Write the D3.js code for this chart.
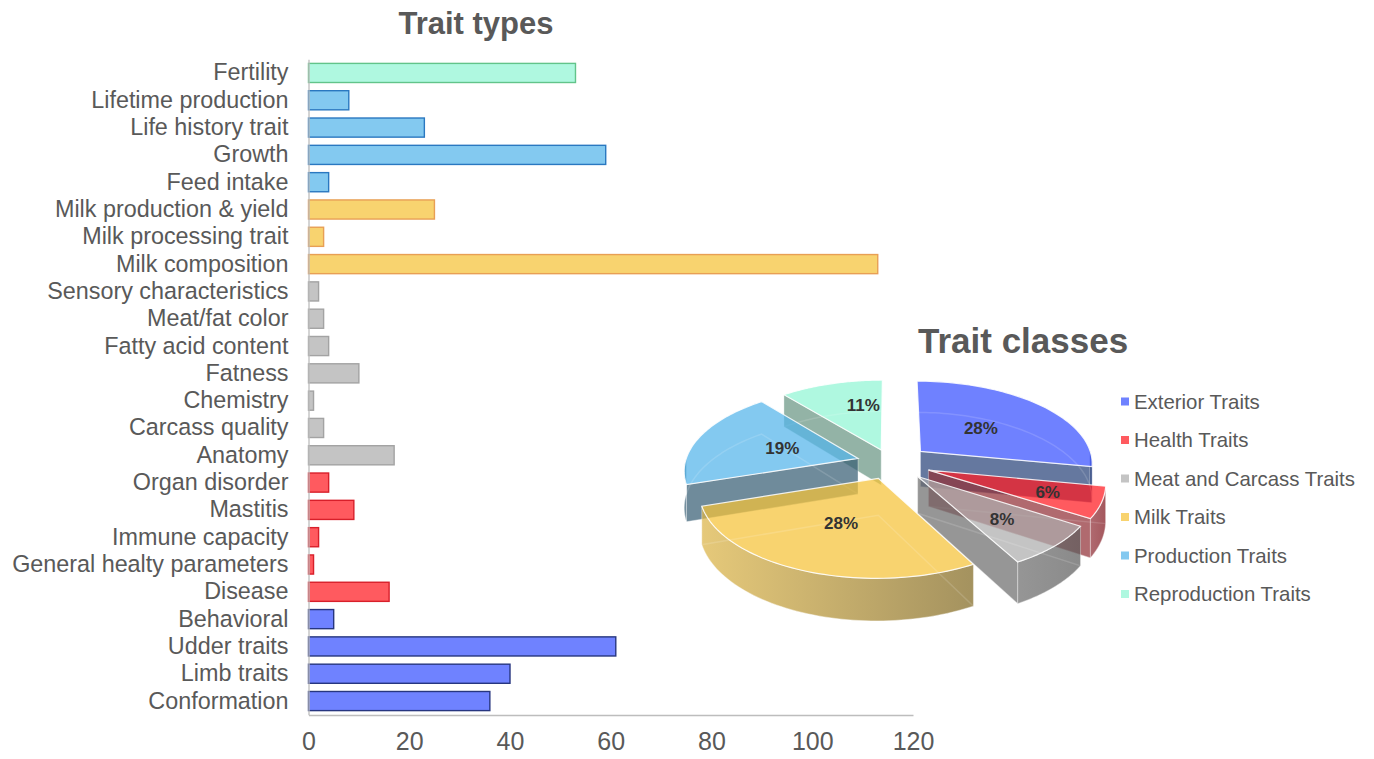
<!DOCTYPE html>
<html>
<head>
<meta charset="utf-8">
<style>
  html, body { margin: 0; padding: 0; background: #fff; }
  svg { display: block; font-family: "Liberation Sans", Arial, sans-serif; }
</style>
<script src="https://cdn.jsdelivr.net/npm/d3@7/dist/d3.min.js"></script>
</head>
<body>
<svg id="chart" width="1374" height="759"></svg>
<script>
// Trait types: bar values listed top to bottom
const traitNames = ["Fertility","Lifetime production","Life history trait","Growth","Feed intake",
  "Milk production & yield","Milk processing trait","Milk composition","Sensory characteristics",
  "Meat/fat color","Fatty acid content","Fatness","Chemistry","Carcass quality","Anatomy",
  "Organ disorder","Mastitis","Immune capacity","General healty parameters","Disease",
  "Behavioral","Udder traits","Limb traits","Conformation"];
const traitCounts = [53,8,23,59,4,25,3,113,2,3,4,10,1,3,17,4,9,2,1,16,5,61,40,36];
const traitClassOf = [5,4,4,4,4,3,3,3,2,2,2,2,2,2,2,1,1,1,1,1,0,0,0,0];
const xTicks = [0,20,40,60,80,100,120];

// Trait classes: share of each class in percent
const classNames = ["Exterior Traits","Health Traits","Meat and Carcass Traits","Milk Traits","Production Traits","Reproduction Traits"];
const classShares = [28,6,8,28,19,11];

// Class palette
const faceColors = ["#6f82ff","#ff5a5f","#c4c4c4","#f8d36f","#83c9f0","#aff8e0"];
const barStrokes = ["#27367f","#d81f2a","#a3a3a3","#e89f55","#2a78c0","#62c48a"];
const wallLight  = ["#66789f","#b06a70","#969696","#e6c97a","#6f8b9b","#94b3a6"];
const wallDark   = ["#5f6fa0","#a4585e","#8a8a8a","#a4925f","#6f8b9b","#8fae9f"];

const svg = d3.select("#chart");
const textColor = "#595959";

// ---- Bar chart ----
const x = d3.scaleLinear().domain([0, 120]).range([308.5, 913]);
const y = d3.scaleBand().domain(traitNames).range([59.3, 714.7]).paddingInner(0.3).paddingOuter(0.15);

svg.append("text").attr("x", 476).attr("y", 34).attr("text-anchor", "middle")
  .attr("font-size", 31).attr("font-weight", "bold").attr("fill", textColor).text("Trait types");

svg.append("g").selectAll("rect").data(traitNames).join("rect")
  .attr("x", x(0))
  .attr("y", d => y(d))
  .attr("width", (d, i) => x(traitCounts[i]) - x(0))
  .attr("height", y.bandwidth())
  .attr("fill", (d, i) => faceColors[traitClassOf[i]])
  .attr("stroke", (d, i) => barStrokes[traitClassOf[i]])
  .attr("stroke-width", 1.4);

const yAxis = svg.append("g").attr("transform", `translate(${x(0)},0)`)
  .call(d3.axisLeft(y).tickSize(0).tickPadding(20));
yAxis.select(".domain").attr("stroke", "#bdbdbd").attr("stroke-width", 1.3);
yAxis.selectAll("text").attr("font-size", 23.35).attr("fill", textColor)
  .attr("font-family", "Liberation Sans");

const xAxis = svg.append("g").attr("transform", "translate(0,715)")
  .call(d3.axisBottom(x).tickValues(xTicks).tickSize(0).tickPadding(17).tickFormat(d3.format("d")));
xAxis.select(".domain").attr("stroke", "#bdbdbd").attr("stroke-width", 1.3);
xAxis.selectAll("text").attr("font-size", 25).attr("fill", textColor)
  .attr("font-family", "Liberation Sans");

// ---- Exploded 3D pie ----
const pieCx = 891, pieCy = 463;
const radiusX = 173, radiusY = 82.4, perspective = 0.132, thickness = 36;
const explode = [0.225, 0.23, 0.22, 0.195, 0.2, 0.17];
const sliceOpacity = 0.72;
const labelRadius = [0.49, 0.70, 0.64, 0.52, 0.47, 0.62];
const labelSweep = [0.5, 0.5, 0.5, 0.5, 0.5, 0.72];
const drawOrder = [5, 0, 4, 1, 3, 2];

const arcs = d3.pie().sort(null).value(d => d)(classShares);
const dir = a => [Math.sin(a), -Math.cos(a)];
const lineGen = d3.line();

// Colour that reads as `target` on white once painted at the slice opacity
function solidFor(target, alpha) {
  const c = d3.rgb(target);
  const f = v => Math.max(0, Math.min(255, (v - 255 * (1 - alpha)) / alpha));
  return d3.rgb(f(c.r), f(c.g), f(c.b)).formatHex();
}

// Pie-plane point to screen, lowered by h for the underside of a slice
function project(X, Y, h = 0) {
  const s = 1 / (1 - perspective * Y);
  return [pieCx + X * radiusX * s, pieCy + Y * radiusY * s + h * s];
}

function slicePoint(i, angle, r, h = 0) {
  const mid = (arcs[i].startAngle + arcs[i].endAngle) / 2;
  const [ox, oy] = dir(mid);
  const [dx, dy] = dir(angle);
  return project(ox * explode[i] + dx * r, oy * explode[i] + dy * r, h);
}

const defs = svg.append("defs");
const pieG = svg.append("g");

drawOrder.forEach(i => {
  const a0 = arcs[i].startAngle, a1 = arcs[i].endAngle;
  const g = pieG.append("g");
  const angles = d3.range(0, 61).map(k => a0 + (a1 - a0) * k / 60);

  const wall = (pts, fill) => g.append("path")
    .attr("d", lineGen(pts) + "Z").attr("fill", fill).attr("fill-opacity", sliceOpacity)
    .attr("stroke", "#fff").attr("stroke-opacity", 0.45).attr("stroke-width", 0.8);

  // Radial walls turned toward the viewer
  if (Math.sin(a1) > 0.02) wall([slicePoint(i, a1, 0), slicePoint(i, a1, 1), slicePoint(i, a1, 1, thickness), slicePoint(i, a1, 0, thickness)],
    solidFor(wallLight[i], sliceOpacity));
  if (Math.sin(a0) < -0.02) wall([slicePoint(i, a0, 0), slicePoint(i, a0, 1), slicePoint(i, a0, 1, thickness), slicePoint(i, a0, 0, thickness)],
    solidFor(wallLight[i], sliceOpacity));

  // Outer rim, shaded left to right
  const front = angles.filter(a => Math.cos(a) < 0.02);
  if (front.length > 1) {
    const gradId = "rim" + i;
    const xs = front.map(a => slicePoint(i, a, 1)[0]);
    const grad = defs.append("linearGradient").attr("id", gradId).attr("gradientUnits", "userSpaceOnUse")
      .attr("x1", d3.min(xs)).attr("x2", d3.max(xs)).attr("y1", 0).attr("y2", 0);
    grad.append("stop").attr("offset", 0).attr("stop-color", solidFor(wallLight[i], sliceOpacity));
    grad.append("stop").attr("offset", 1).attr("stop-color", solidFor(wallDark[i], sliceOpacity));
    wall(front.map(a => slicePoint(i, a, 1)).concat(front.slice().reverse().map(a => slicePoint(i, a, 1, thickness))), `url(#${gradId})`);
  }

  // Top face
  const top = [slicePoint(i, a0, 0)].concat(angles.map(a => slicePoint(i, a, 1)));
  g.append("path").attr("d", lineGen(top) + "Z")
    .attr("fill", solidFor(faceColors[i], sliceOpacity)).attr("fill-opacity", sliceOpacity)
    .attr("stroke", "#fff").attr("stroke-width", 1.2).attr("stroke-opacity", 0.85);

  // Underside outline faintly visible through the translucent top
  const under = [slicePoint(i, a0, 0, thickness)].concat(angles.map(a => slicePoint(i, a, 1, thickness)));
  g.append("path").attr("d", lineGen(under) + "Z")
    .attr("fill", "none").attr("stroke", "#fff").attr("stroke-width", 1.5).attr("stroke-opacity", 0.14);
});

// Percentage labels sit above every slice
const labelPoint = (d, i) => slicePoint(i, d.startAngle + (d.endAngle - d.startAngle) * labelSweep[i], labelRadius[i]);
svg.append("g").selectAll("text").data(arcs).join("text")
  .attr("x", (d, i) => labelPoint(d, i)[0])
  .attr("y", (d, i) => labelPoint(d, i)[1])
  .attr("dy", "0.35em").attr("text-anchor", "middle")
  .attr("font-size", 17).attr("font-weight", "bold").attr("fill", "#333")
  .text(d => d.data + "%");

svg.append("text").attr("x", 918).attr("y", 353)
  .attr("font-size", 35).attr("font-weight", "bold").attr("fill", textColor).text("Trait classes");

// ---- Legend ----
const legendY = d3.scalePoint().domain(classNames).range([401.5, 594]);
const legend = svg.append("g").selectAll("g").data(classNames).join("g")
  .attr("transform", d => `translate(1121,${legendY(d)})`);
legend.append("rect").attr("x", 0).attr("y", -4).attr("width", 8).attr("height", 8)
  .attr("fill", (d, i) => faceColors[i]);
legend.append("text").attr("x", 13).attr("dy", "0.35em")
  .attr("font-size", 20.4).attr("fill", textColor).text(d => d);
</script>
</body>
</html>
